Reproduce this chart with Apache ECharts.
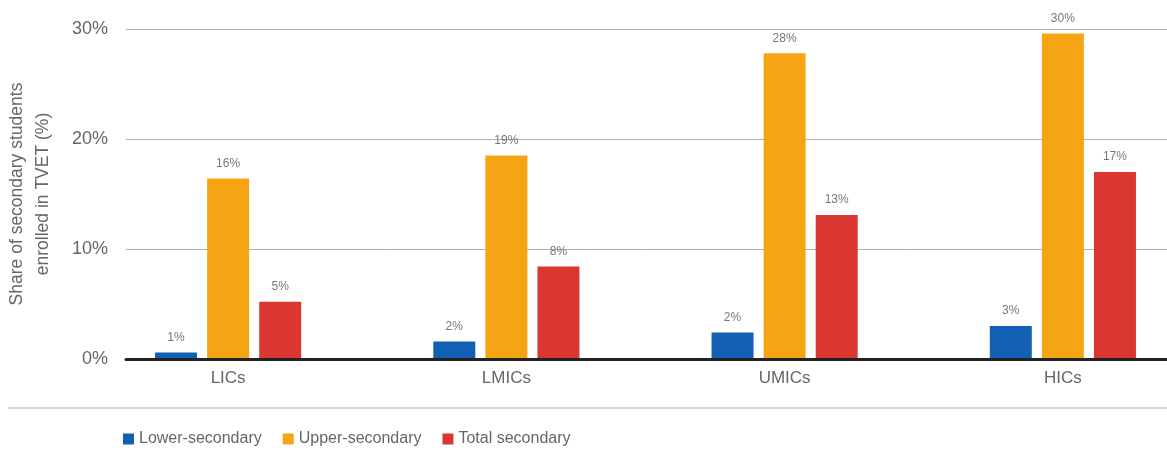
<!DOCTYPE html>
<html>
<head>
<meta charset="utf-8">
<script src="https://cdn.jsdelivr.net/npm/echarts@6/dist/echarts.min.js"></script>
<style>
  html, body { margin: 0; padding: 0; background: #fff; }
  #chart { width: 1167px; height: 450px; }
</style>
</head>
<body>
<div id="chart"></div>
<script>
var categories = ['LICs', 'LMICs', 'UMICs', 'HICs'];
var lowerSecondary = [0.6, 1.6, 2.4, 3.0];
var upperSecondary = [16.4, 18.5, 27.8, 29.6];
var totalSecondary = [5.2, 8.4, 13.1, 17.0];
var yTicks = [0, 10, 20, 30];

var chart = echarts.init(document.getElementById('chart'));
var font = 'Liberation Sans, Arial, sans-serif';

function barSeries(name, data, color) {
    return {
        name: name,
        type: 'bar',
        xAxisIndex: 1,
        yAxisIndex: 1,
        data: data,
        barWidth: 42,
        barGap: '24%',
        itemStyle: { color: color },
        label: {
            show: true,
            position: 'top',
            distance: 9,
            color: '#777',
            fontSize: 12,
            fontFamily: font,
            formatter: function (p) {
                return Math.round(p.value) + '%';
            }
        }
    };
}

var option = {
    animation: false,
    textStyle: { fontFamily: font },
    // grid 0 carries gridlines, y labels and the base line; grid 1 places the bars
    grid: [
        { left: 126, right: 0, top: 29, bottom: 91, outerBoundsMode: 'none', containLabel: false },
        { left: 89, right: -35, top: 29, bottom: 91, outerBoundsMode: 'none', containLabel: false }
    ],
    legend: {
        left: 123,
        top: 431,
        padding: 0,
        itemWidth: 11,
        itemHeight: 11,
        itemGap: 21,
        icon: 'rect',
        textStyle: { color: '#666', fontSize: 16, fontFamily: font },
        data: ['Lower-secondary', 'Upper-secondary', 'Total secondary']
    },
    xAxis: [
        {
            type: 'category',
            gridIndex: 0,
            data: categories,
            z: 5,
            axisLine: { lineStyle: { color: '#222', width: 3 } },
            axisTick: { show: false },
            axisLabel: { show: false }
        },
        {
            type: 'category',
            gridIndex: 1,
            data: categories,
            axisLine: { show: false },
            axisTick: { show: false },
            axisLabel: { color: '#666', fontSize: 17, margin: 11, fontFamily: font }
        }
    ],
    yAxis: [
        {
            type: 'value',
            gridIndex: 0,
            min: yTicks[0],
            max: yTicks[yTicks.length - 1],
            interval: 10,
            name: 'Share of secondary students\nenrolled in TVET (%)',
            nameLocation: 'middle',
            nameGap: 70,
            nameTextStyle: { color: '#666', fontSize: 17.5, lineHeight: 26, fontFamily: font },
            axisLine: { show: false },
            axisTick: { show: false },
            axisLabel: {
                color: '#666', fontSize: 18, margin: 18, fontFamily: font,
                formatter: '{value}%'
            },
            splitLine: { lineStyle: { color: '#b0b0b0', width: 1 } }
        },
        {
            type: 'value',
            gridIndex: 1,
            min: yTicks[0],
            max: yTicks[yTicks.length - 1],
            interval: 10,
            show: false,
            splitLine: { show: false }
        }
    ],
    graphic: [
        {
            type: 'line',
            shape: { x1: 8, y1: 408, x2: 1167, y2: 408 },
            style: { stroke: '#d6d6d6', lineWidth: 2 }
        }
    ],
    series: [
        barSeries('Lower-secondary', lowerSecondary, '#1160b3'),
        barSeries('Upper-secondary', upperSecondary, '#f5a514'),
        barSeries('Total secondary', totalSecondary, '#db3731')
    ]
};

chart.setOption(option);
</script>
</body>
</html>
